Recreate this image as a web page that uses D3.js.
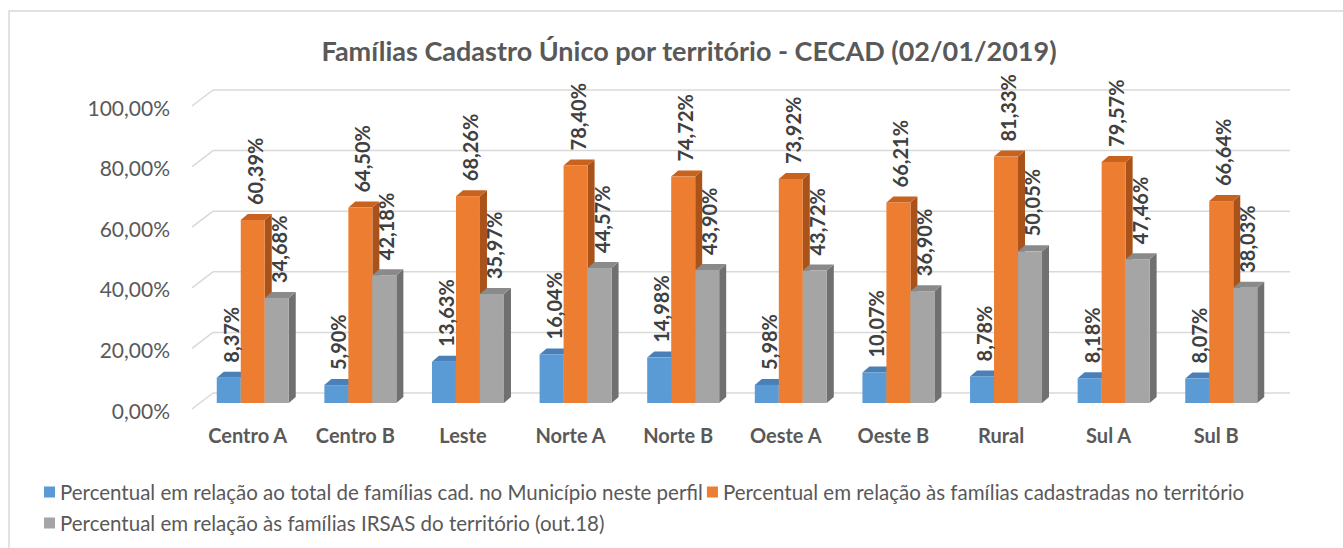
<!DOCTYPE html>
<html><head><meta charset="utf-8">
<script src="https://cdn.jsdelivr.net/npm/d3@7"></script>
<style>body{margin:0;background:#fff}svg{display:block}</style>
</head><body>
<svg id="chart" width="1343" height="548"></svg>
<script>
// ---- data ----
const title = "Famílias Cadastro Único por território - CECAD (02/01/2019)";
const categories = ["Centro A","Centro B","Leste","Norte A","Norte B","Oeste A","Oeste B","Rural","Sul A","Sul B"];
const seriesNames = [
  "Percentual em relação ao total de famílias cad. no Município neste perfil",
  "Percentual em relação às famílias cadastradas no território",
  "Percentual em relação às famílias IRSAS do território (out.18)"
];
const municipio  = [8.37, 5.90, 13.63, 16.04, 14.98, 5.98, 10.07, 8.78, 8.18, 8.07];
const territorio = [60.39, 64.50, 68.26, 78.40, 74.72, 73.92, 66.21, 81.33, 79.57, 66.64];
const irsas      = [34.68, 42.18, 35.97, 44.57, 43.90, 43.72, 36.90, 50.05, 47.46, 38.03];
const yTicks = [0, 20, 40, 60, 80, 100];

// ---- styles ----
const colors = [
  {front:"#5B9BD5", top:"#4A80B8", side:"#3F6F9E"},
  {front:"#ED7D31", top:"#C8621F", side:"#A9521A"},
  {front:"#A5A5A5", top:"#8A8A8A", side:"#707070"}
];
const FONT = "Lato, 'Open Sans', sans-serif";
const TXT = "#595959";

const svg = d3.select("#chart");
const ptBR = d3.formatLocale({decimal:",", thousands:".", grouping:[3], currency:["R$",""]});
const fmt = v => ptBR.format(".2f")(v) + "%";

// chart border
svg.append("rect").attr("x",9).attr("y",11).attr("width",1340).attr("height",545)
  .attr("fill","none").attr("stroke","#D9D9D9").attr("stroke-width",1.5);

// scales
const x0 = d3.scaleBand().domain(categories).range([199, 1275]).paddingInner(0.331).paddingOuter(0.165);
const x1 = d3.scaleBand().domain(d3.range(seriesNames.length)).range([0, x0.bandwidth()]);
const yFront = d3.scaleLinear().domain([0, 100]).range([403, 100]);
const wallShift = {dx: 21, dy: -16, back: -10};
const yBack = v => yFront(v) + wallShift.back;
const wallX0 = 213, wallX1 = 1290;

// wall gridlines + floor diagonals
const grid = svg.append("g");
yTicks.forEach(t => {
  const yb = yBack(t);
  grid.append("line").attr("x1", wallX0).attr("x2", wallX1).attr("y1", yb).attr("y2", yb)
    .attr("stroke","#D9D9D9").attr("stroke-width",1.5);
  grid.append("line").attr("x1", wallX0 - wallShift.dx).attr("y1", yb - wallShift.dy)
    .attr("x2", wallX0).attr("y2", yb).attr("stroke","#D9D9D9").attr("stroke-width",1.5);
});

// y axis labels
svg.append("g").selectAll("text").data(yTicks).join("text")
  .attr("x", 170).attr("y", t => yBack(t) - wallShift.dy + 1)
  .attr("text-anchor","end").attr("dominant-baseline","central")
  .attr("font-family", FONT).attr("font-size", 21).attr("fill", TXT)
  .text(t => fmt(t));

// bars
const dx = 7, dy = 6;
const seriesVals = [municipio, territorio, irsas];
const bars = svg.append("g");
categories.forEach((c, i) => {
  seriesVals.forEach((vals, s) => {
    const v = vals[i];
    const x = x0(c) + x1(s), w = x1.bandwidth();
    const yt = yFront(v), yb = yFront(0);
    const g = bars.append("g");
    g.append("polygon").attr("points", [[x+w,yt],[x+w+dx,yt-dy],[x+w+dx,yb-dy],[x+w,yb]].join(" "))
      .attr("fill", colors[s].side);
    g.append("polygon").attr("points", [[x,yt],[x+dx,yt-dy],[x+w+dx,yt-dy],[x+w,yt]].join(" "))
      .attr("fill", colors[s].top);
    g.append("rect").attr("x", x).attr("y", yt).attr("width", w).attr("height", yb - yt)
      .attr("fill", colors[s].front);
  });
});

// data labels
const labels = svg.append("g");
categories.forEach((c, i) => {
  seriesVals.forEach((vals, s) => {
    const v = vals[i];
    const cx = x0(c) + x1(s) + x1.bandwidth()/2 + 2;
    const y = yFront(v) - 15;
    labels.append("text")
      .attr("transform", `translate(${cx},${y}) rotate(-90)`)
      .attr("dominant-baseline","central")
      .attr("font-family", FONT).attr("font-weight", "bold").attr("font-size", 20)
      .attr("fill", "#404040").text(fmt(v));
  });
});

// category labels
svg.append("g").selectAll("text").data(categories).join("text")
  .attr("x", c => x0(c) + x0.bandwidth()/2 - 5).attr("y", 443)
  .attr("text-anchor","middle").attr("font-family", FONT).attr("font-weight","bold")
  .attr("font-size", 20).attr("fill", TXT).text(c => c);

// title
svg.append("text").attr("x", 689).attr("y", 61).attr("text-anchor","middle")
  .attr("font-family", FONT).attr("font-weight","bold").attr("font-size", 27).attr("fill", TXT)
  .text(title);

// legend
const leg = svg.append("g").attr("font-family", FONT).attr("font-size", 20.5).attr("fill", TXT);
let lx = 44;
const rows = [492, 492, 523];
seriesNames.forEach((n, s) => {
  if (s === 2) lx = 44;
  const ly = rows[s];
  leg.append("rect").attr("x", lx).attr("y", ly - 5.5).attr("width", 11).attr("height", 11)
    .attr("fill", colors[s].front);
  const t = leg.append("text").attr("x", lx + 16).attr("y", ly).attr("dominant-baseline","central").text(n);
  lx = lx + 16 + t.node().getComputedTextLength() + 4;
});
</script>
</body></html>
